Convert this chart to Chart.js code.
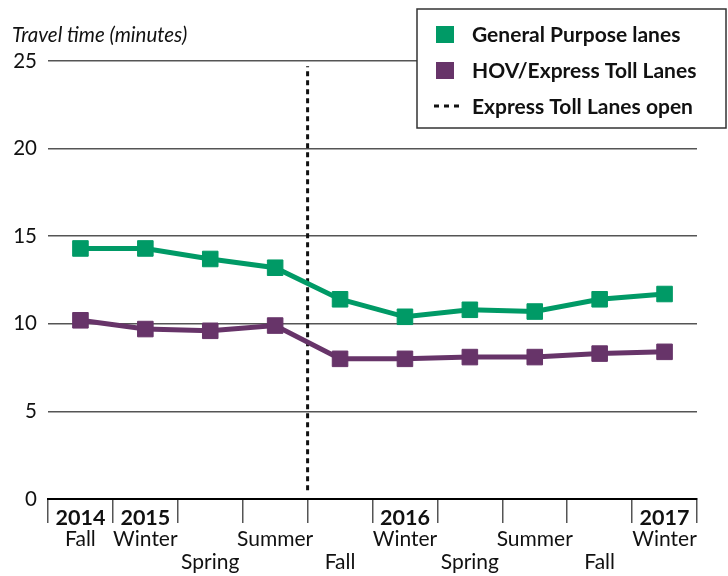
<!DOCTYPE html>
<html>
<head>
<meta charset="utf-8">
<script src="https://cdn.jsdelivr.net/npm/chart.js@4"></script>
<style>
  html, body { margin: 0; padding: 0; background: #fff; }
  #wrap { width: 728px; height: 576px; }
</style>
</head>
<body>
<div id="wrap"><canvas id="c" width="728" height="576"></canvas></div>
<script>
// ---- data ----
const categories = ['Fall 2014', 'Winter 2015', 'Spring 2015', 'Summer 2015', 'Fall 2015',
                    'Winter 2016', 'Spring 2016', 'Summer 2016', 'Fall 2016', 'Winter 2017'];
const yearLabels = ['2014', '2015', '', '', '', '2016', '', '', '', '2017'];
const seasonLabels = [['Fall', ''], ['Winter', ''], ['', 'Spring'], ['Summer', ''], ['', 'Fall'],
                      ['Winter', ''], ['', 'Spring'], ['Summer', ''], ['', 'Fall'], ['Winter', '']];
const generalPurpose = [14.3, 14.3, 13.7, 13.2, 11.4, 10.4, 10.8, 10.7, 11.4, 11.7];
const hovExpress = [10.2, 9.7, 9.6, 9.9, 8.0, 8.0, 8.1, 8.1, 8.3, 8.4];
const tollOpenPosition = 3.5;          // between Summer 2015 and Fall 2015
const tollOpenRange = [0.5, 24.7];     // vertical extent of the marker line
const yMin = 0, yMax = 25, yStep = 5;
const seriesNames = ['General Purpose lanes', 'HOV/Express Toll Lanes', 'Express Toll Lanes open'];
const axisTitle = 'Travel time (minutes)';

const GREEN = '#009A66';
const PURPLE = '#673469';
const FONT = 'Lato, "Open Sans", sans-serif';

const legendBox = {
  id: 'legendBox',
  afterDraw(chart) {
    const ctx = chart.ctx;
    const x0 = chart.width - 311, y0 = 9, w = 309, h = 119;
    ctx.save();
    ctx.fillStyle = '#fff';
    ctx.fillRect(x0, y0, w, h);
    ctx.strokeStyle = '#333';
    ctx.lineWidth = 1.5;
    ctx.strokeRect(x0, y0, w, h);
    const rows = [y0 + 25, y0 + 61, y0 + 97];
    ctx.font = 'bold 21px ' + FONT;
    ctx.textBaseline = 'middle';
    ctx.textAlign = 'left';
    chart.data.datasets.forEach((ds, i) => {
      const cy = rows[i];
      if (i < 2) {
        ctx.fillStyle = ds.borderColor;
        ctx.fillRect(x0 + 19, cy - 8, 18, 17);
      } else {
        ctx.strokeStyle = ds.borderColor;
        ctx.lineWidth = 3;
        ctx.setLineDash([5, 5]);
        ctx.beginPath();
        ctx.moveTo(x0 + 17, cy);
        ctx.lineTo(x0 + 46, cy);
        ctx.stroke();
        ctx.setLineDash([]);
      }
      ctx.fillStyle = '#111';
      ctx.fillText(ds.label, x0 + 55, cy + 1);
    });
    ctx.restore();
  }
};

new Chart(document.getElementById('c'), {
  type: 'line',
  data: {
    labels: categories,
    datasets: [
      {
        label: seriesNames[0],
        data: generalPurpose,
        xAxisID: 'x',
        borderColor: GREEN,
        backgroundColor: GREEN,
        borderWidth: 5,
        pointStyle: 'rect',
        pointRadius: 11,
        pointBorderWidth: 1,
        pointBackgroundColor: GREEN,
        pointBorderColor: GREEN,
        tension: 0,
        clip: false
      },
      {
        label: seriesNames[1],
        data: hovExpress,
        xAxisID: 'x',
        borderColor: PURPLE,
        backgroundColor: PURPLE,
        borderWidth: 5,
        pointStyle: 'rect',
        pointRadius: 11,
        pointBorderWidth: 1,
        pointBackgroundColor: PURPLE,
        pointBorderColor: PURPLE,
        tension: 0,
        clip: false
      },
      {
        label: seriesNames[2],
        data: tollOpenRange.map(v => ({ x: tollOpenPosition, y: v })),
        xAxisID: 'xl',
        borderColor: '#111',
        borderWidth: 3,
        borderDash: [5, 4],
        pointRadius: 0,
        tension: 0
      }
    ]
  },
  options: {
    responsive: false,
    animation: false,
    layout: { padding: { left: 12, right: 31, top: 0, bottom: 0 } },
    plugins: {
      legend: { display: false },
      tooltip: { enabled: false },
      title: {
        display: true,
        text: axisTitle,
        align: 'start',
        color: '#111',
        font: { family: FONT, size: 20.5, style: 'italic', weight: 'normal', lineHeight: 1.2 },
        padding: { top: 23, bottom: 13.4 }
      }
    },
    scales: {
      x: {
        type: 'category',
        position: 'bottom',
        weight: 0,
        offset: true,
        grid: { display: true, drawOnChartArea: false, drawTicks: true, tickLength: 24, offset: true, color: '#555', lineWidth: 1.5 },
        border: { display: true, color: '#000', width: 2 },
        ticks: {
          autoSkip: false, maxRotation: 0, minRotation: 0,
          padding: -17,
          color: '#111',
          font: { family: FONT, size: 21.5, weight: 'bold', lineHeight: 1.1 },
          callback: (v, i) => yearLabels[i]
        },
        afterFit: s => { s.height = 28; }
      },
      x2: {
        type: 'category',
        position: 'bottom',
        weight: 1,
        labels: seasonLabels,
        min: 0, max: 9,
        offset: true,
        grid: { display: false, drawTicks: false },
        border: { display: false },
        ticks: {
          autoSkip: false, maxRotation: 0, minRotation: 0,
          padding: 1,
          color: '#111',
          font: { family: FONT, size: 21, weight: 'normal', lineHeight: 1.1 }
        },
        afterFit: s => { s.height = 49; }
      },
      xl: { type: 'linear', min: -0.5, max: 9.5, display: false },
      y: {
        min: yMin, max: yMax,
        ticks: {
          stepSize: yStep,
          padding: 11,
          color: '#111',
          font: { family: FONT, size: 20.5, weight: 'normal' }
        },
        grid: { color: '#555', lineWidth: 1.5, drawTicks: false },
        border: { display: false },
        afterFit: s => { s.width = 36; }
      }
    }
  },
  plugins: [legendBox]
});
</script>
</body>
</html>
